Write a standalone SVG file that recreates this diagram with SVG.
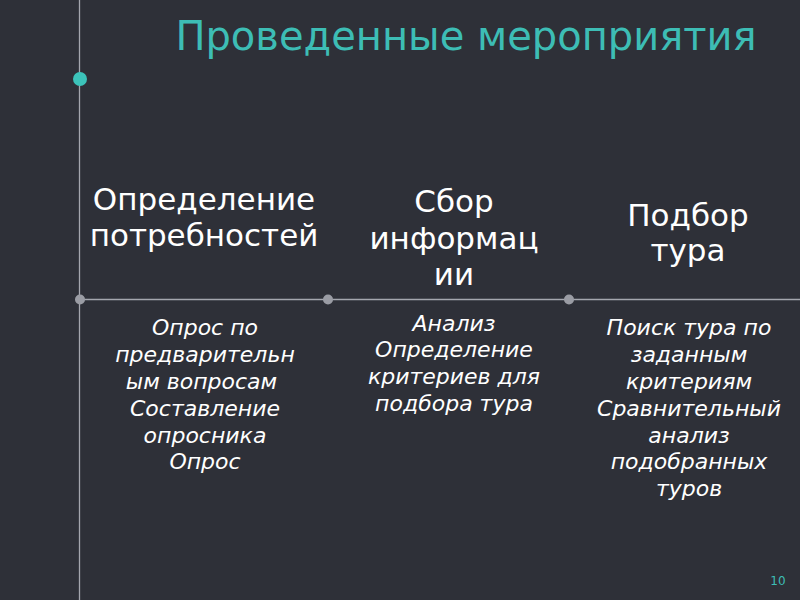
<svg xmlns="http://www.w3.org/2000/svg" width="800" height="600" viewBox="0 0 800 600">
<style>
.h{font-family:"DejaVu Sans",sans-serif;font-size:31px;fill:#ffffff;text-anchor:middle}
.b{font-family:"DejaVu Sans",sans-serif;font-size:22px;font-style:italic;fill:#ffffff;text-anchor:middle}
.ln{stroke:#a4a6ae;stroke-width:1.3}
.gd{fill:#9a9ca4}
</style>
<rect width="800" height="600" fill="#2e3038"/>
<g id="title"><text x="466" y="50" font-family="DejaVu Sans, sans-serif" font-size="40" fill="#3dbdb5" text-anchor="middle">Проведенные мероприятия</text></g>
<g id="connectors">
<line class="ln" x1="79.5" y1="0" x2="79.5" y2="600"/>
<line class="ln" x1="80" y1="299.5" x2="800" y2="299.5"/>
</g>
<circle cx="80" cy="79" r="7" fill="#3cc3ba"/>
<circle class="gd" cx="80" cy="299.5" r="5"/>
<circle class="gd" cx="328" cy="299.5" r="5"/>
<circle class="gd" cx="569" cy="299.5" r="5"/>
<g id="col1">
<text class="h" x="204" y="210">Определение</text>
<text class="h" x="204" y="246">потребностей</text>
<text class="b" x="205" y="335">Опрос по</text>
<text class="b" x="205" y="362">предварительн</text>
<text class="b" x="205" y="389" xml:space="preserve">ым вопросам </text>
<text class="b" x="205" y="416">Составление</text>
<text class="b" x="205" y="443">опросника</text>
<text class="b" x="205" y="469">Опрос</text>
</g>
<g id="col2">
<text class="h" x="454" y="212">Сбор</text>
<text class="h" x="454" y="249">информац</text>
<text class="h" x="454" y="285">ии</text>
<text class="b" x="454" y="331">Анализ</text>
<text class="b" x="454" y="357">Определение</text>
<text class="b" x="454" y="384">критериев для</text>
<text class="b" x="454" y="411">подбора тура</text>
</g>
<g id="col3">
<text class="h" x="688" y="226">Подбор</text>
<text class="h" x="688" y="261">тура</text>
<text class="b" x="689" y="335">Поиск тура по</text>
<text class="b" x="689" y="362">заданным</text>
<text class="b" x="689" y="389">критериям</text>
<text class="b" x="689" y="416">Сравнительный</text>
<text class="b" x="689" y="443">анализ</text>
<text class="b" x="689" y="469">подобранных</text>
<text class="b" x="689" y="496">туров</text>
</g>
<g id="pagenum"><text x="778" y="585" font-family="DejaVu Sans, sans-serif" font-size="12" fill="#3dbdb5" text-anchor="middle">10</text></g>
</svg>
